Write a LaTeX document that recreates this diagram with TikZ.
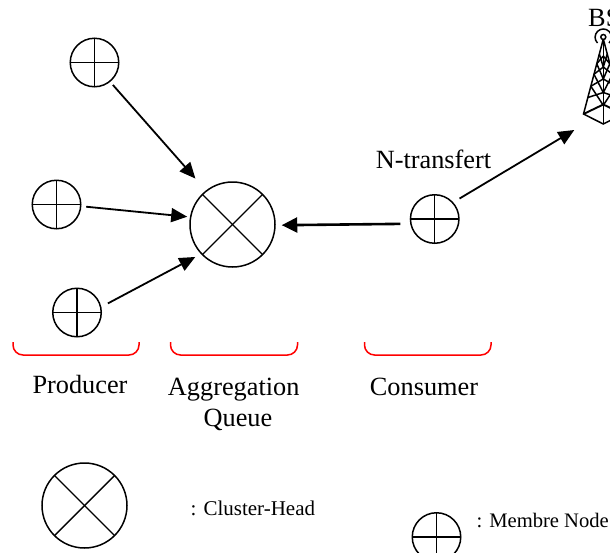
\documentclass[tikz,border=0pt]{standalone}
\usepackage{fontspec}
\setmainfont{Liberation Serif}
\usetikzlibrary{arrows.meta}
\tikzset{
  x=1pt,y=-1pt,
  member/.style={circle,draw,line width=1.5pt,minimum size=48.5pt,inner sep=0pt,
    path picture={
      \draw[line width=1.4pt] (path picture bounding box.north)--(path picture bounding box.south);
      \draw[line width=1.4pt] (path picture bounding box.west)--(path picture bounding box.east);}},
  head/.style={circle,draw,line width=1.5pt,minimum size=85pt,inner sep=0pt,
    path picture={
      \draw[line width=1.4pt] (path picture bounding box.north west)--(path picture bounding box.south east);
      \draw[line width=1.4pt] (path picture bounding box.north east)--(path picture bounding box.south west);}},
  arr/.style={line width=1.8pt,-{Triangle[length=16pt,width=14pt]}},
  thickarr/.style={line width=2.6pt,-{Triangle[length=15.5pt,width=15pt]}},
  brace/.style={draw=red,line width=1.5pt,rounded corners=10pt},
  biglbl/.style={anchor=base,inner sep=0pt,font=\fontsize{26.3}{30}\selectfont},
  leglbl/.style={anchor=base west,inner sep=0pt,font=\fontsize{20.6}{25}\selectfont},
  tower/.style={line width=1.5pt}
}
\begin{document}
\begin{tikzpicture}
\useasboundingbox (0,0) rectangle (610,552);
\clip (0,0) rectangle (610,552);
% nodes
\node[member] (m1) at (94.5,62.5) {};
\node[member] (m2) at (56.5,204.5) {};
\node[member] (m3) at (77,312.5) {};
\node[member] (m4) at (434.7,219) {};
\node[head] (ch) at (232.5,224.5) {};
\node[head] (legch) at (84.5,505.5) {};
\node[member] (legm) at (436.5,537) {};
\coordinate (bsin) at (574.3,130);
% connectors
\draw[arr,shorten <=4pt,shorten >=15.8pt] (m1.-51.6) -- (ch.128.7);
\draw[arr,shorten <=4.8pt,shorten >=2.7pt] (m2.-4.3) -- (ch.170);
\draw[arr,shorten <=7.4pt,shorten >=6.3pt] (m3.13.6) -- (ch.223.3);
\draw[thickarr,shorten <=9.9pt,shorten >=6pt] (m4.191.2) -- (ch.-1.4);
\draw[arr,shorten <=7.3pt] (m4.42) -- (bsin);
% braces
\draw[brace] (13,342) -- (13,355) -- (139,355) -- (139,342);
\draw[brace] (170.5,342) -- (170.5,355) -- (297.5,355) -- (297.5,342);
\draw[brace] (364.5,342) -- (364.5,355) -- (491,355) -- (491,342);
% labels
\node[biglbl] (tprod) at (80,393) {Producer};
\node[biglbl] (tagg) at (233.7,395) {Aggregation};
\node[biglbl] (tq) at (238,426.7) {Queue};
\node[biglbl] (tcons) at (424,395) {Consumer};
\node[biglbl] (tnt) at (433.5,168) {N-transfert};
\node[biglbl,anchor=base west] (tbs) at (588,26) {BS};
\node[leglbl,font=\fontsize{21}{25}\selectfont] (tch) at (190.5,515.7) {: Cluster-Head};
\node[leglbl] (tm) at (476.5,527) {: Membre Node};
% tower
\begin{scope}[tower]
  \draw (603.3,37) circle (2.5);
  \draw (597.5,43) arc[start angle=225,end angle=-45,radius=8.2,y radius=-8.2];
  \draw (603.3,39) -- (583.5,114) -- (603.3,124) -- (623,114) -- (603.3,39);
  \draw (603.3,39) -- (603.3,124);
  \draw[line width=1.9pt] (583.5,114) -- (603.3,104.5) -- (623,114);
  \foreach \a/\b in {0.2/0.33,0.33/0.47,0.47/0.63,0.63/0.78}{
    \draw ({603.3-19.8*\a},{39+75*\a}) -- (603.3,{39+85*\b});
    \draw (603.3,{39+85*\a}) -- ({603.3-19.8*\b},{39+75*\b});
    \draw ({603.3+19.8*\a},{39+75*\a}) -- (603.3,{39+85*\b});
    \draw (603.3,{39+85*\a}) -- ({603.3+19.8*\b},{39+75*\b});
  }
\end{scope}
\end{tikzpicture}
\end{document}
